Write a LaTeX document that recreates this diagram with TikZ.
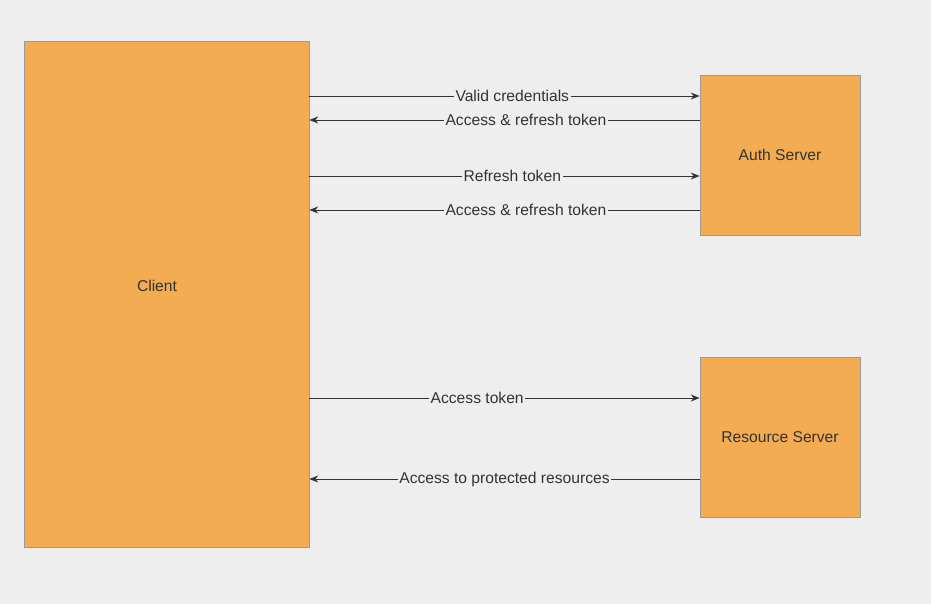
\documentclass[tikz,border=0pt]{standalone}
\usepackage{fontspec}
\setmainfont{Liberation Sans}
\usetikzlibrary{arrows.meta,positioning,calc}
\definecolor{pagegray}{RGB}{238,238,238}
\definecolor{boxorange}{RGB}{243,172,81}
\definecolor{boxline}{RGB}{155,155,155}
\definecolor{inkgray}{RGB}{51,51,51}
\tikzset{
  server/.style={draw=boxline,line width=0.5pt,fill=boxorange,text=inkgray},
  msg/.style={-{Stealth[length=5pt,width=4pt]},draw=inkgray,line width=0.45pt},
  msglabel/.style={fill=pagegray,inner sep=1pt,text=inkgray}
}
\begin{document}
\begin{tikzpicture}[x=0.02cm,y=-0.02cm,every node/.style={font=\fontsize{8.9}{10}\selectfont,align=center}]
\fill[pagegray] (0,0) rectangle (931,604);
\useasboundingbox (0,0) rectangle (931,604);
\node[server,minimum width=5.7cm,minimum height=10.12cm] (client) at (166.5,294) {};
\node[text=inkgray] (clientname) at (157,286) {Client};
\node[server,minimum width=3.2cm,minimum height=3.2cm] (auth) at (780,155) {Auth Server};
\node[server,minimum width=3.2cm,minimum height=3.2cm] (res) at (780,437) {Resource Server};
\draw[msg] (client.east |- 0,96) -- node[msglabel,pos=0.52] {Valid credentials} (auth.west |- 0,96);
\draw[msg] (auth.west |- 0,120) -- node[msglabel,pos=0.445] {Access \& refresh token} (client.east |- 0,120);
\draw[msg] (client.east |- 0,176) -- node[msglabel,pos=0.52] {Refresh token} (auth.west |- 0,176);
\draw[msg] (auth.west |- 0,210) -- node[msglabel,pos=0.445] {Access \& refresh token} (client.east |- 0,210);
\draw[msg] (client.east |- 0,398) -- node[msglabel,pos=0.43] {Access token} (res.west |- 0,398);
\draw[msg] (res.west |- 0,479) -- node[msglabel,pos=0.50] {Access to protected resources} (client.east |- 0,479);
\end{tikzpicture}
\end{document}
